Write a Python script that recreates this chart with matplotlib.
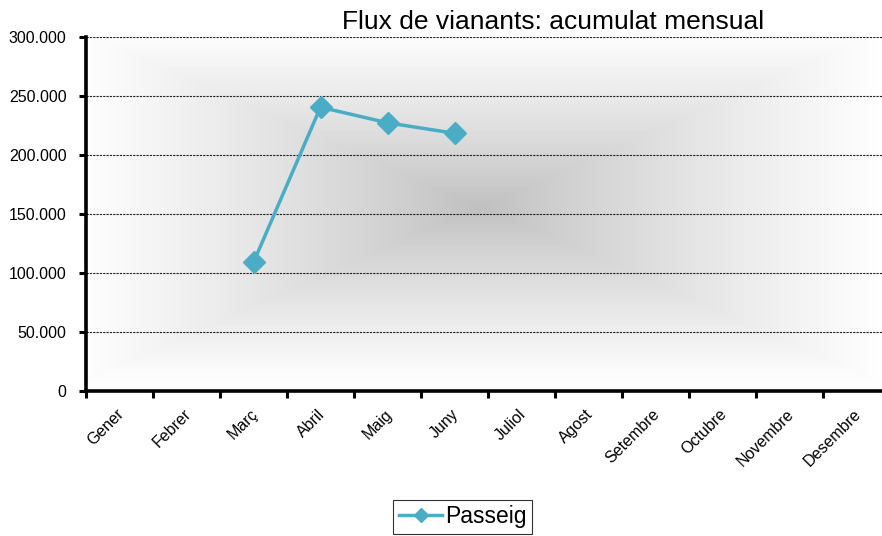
import numpy as np
import matplotlib
matplotlib.use("Agg")
import matplotlib.pyplot as plt
from matplotlib.ticker import FuncFormatter, FixedLocator
import matplotlib.transforms as mtransforms

plt.rcParams['font.family'] = ['Liberation Sans', 'DejaVu Sans']

months = ["Gener", "Febrer", "Març", "Abril", "Maig", "Juny", "Juliol",
          "Agost", "Setembre", "Octubre", "Novembre", "Desembre"]
series_name = "Passeig"
passeig = [None, None, 109000, 240500, 227300, 218400, None, None, None, None, None, None]
yticks = [0, 50000, 100000, 150000, 200000, 250000, 300000]
title = "Flux de vianants: acumulat mensual"

W, H = 882, 536
fig = plt.figure(figsize=(W / 100, H / 100), dpi=100)
ax = fig.add_axes([86 / W, (H - 391) / H, (890 - 86) / W, (391 - 37) / H])

n = len(months)
ax.set_xlim(-0.5, n - 0.5)
ax.set_ylim(0, 300000)

# rectangular gradient background
gx = np.linspace(-1, 1, 400)
gy = np.linspace(-1, 1, 300)
X, Y = np.meshgrid(gx, gy)
t = np.maximum(np.abs(X + 0.02), np.abs(Y + 0.04))
t = np.clip(t, 0, 1)
val = 0.75 + (1.0 - 0.75) * t ** 0.85
img = np.dstack([val, val, val])
ax.imshow(img, extent=[-0.5, n - 0.5, 0, 300000], aspect='auto',
          interpolation='bilinear', zorder=0)

# gridlines
for yv in yticks[1:]:
    ax.axhline(yv, color='#202020', lw=0.8, ls=(0, (2, 1)), zorder=1)

x = np.arange(n)
y = np.array([np.nan if v is None else v for v in passeig], dtype=float)
ax.plot(x, y, color='#4BACC6', lw=2.5, marker='D', markersize=11,
        markerfacecolor='#4BACC6', markeredgecolor='#4BACC6', zorder=3,
        label=series_name)

for s in ['top', 'right']:
    ax.spines[s].set_visible(False)
for s in ['left', 'bottom']:
    ax.spines[s].set_linewidth(2.6)
    ax.spines[s].set_color('black')
    ax.spines[s].set_zorder(4)

ax.set_yticks(yticks)
ax.yaxis.set_major_formatter(FuncFormatter(lambda v, p: "0" if v == 0 else f"{int(v):,}".replace(",", ".")))
ax.tick_params(axis='y', direction='out', length=5, width=2.2, labelsize=11.5, pad=9, colors='black')

# x: minor ticks at boundaries, labels at centers
ax.xaxis.set_minor_locator(FixedLocator(np.arange(-0.5, n, 1.0)))
ax.set_xticks(x)
ax.set_xticklabels(months, rotation=45, ha='right', va='center', rotation_mode='anchor', fontsize=11.5)
ax.tick_params(axis='x', which='major', length=0, pad=15)
ax.tick_params(axis='x', which='minor', direction='out', length=5, width=2.2)
offset = mtransforms.ScaledTranslation(1.5 / 72, 0, fig.dpi_scale_trans)
for lab in ax.get_xticklabels():
    lab.set_transform(lab.get_transform() + offset)

fig.text(553 / W, 1 - 22 / H, title, ha='center', va='center', fontsize=19)

leg = fig.legend(loc='center', bbox_to_anchor=(462.5 / W, 1 - 517 / H), frameon=True,
                 fancybox=False, fontsize=16.5, handlelength=1.9, borderpad=0.25,
                 handletextpad=0.1, markerscale=0.65, borderaxespad=0)
leg.get_frame().set_edgecolor('black')
leg.get_frame().set_linewidth(0.8)

fig.savefig("out.png", dpi=100)
